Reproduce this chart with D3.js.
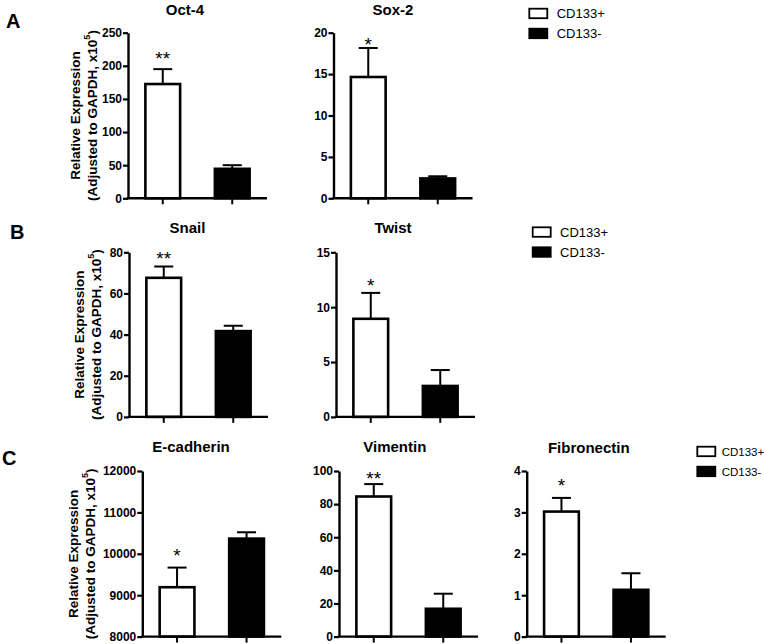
<!DOCTYPE html>
<html>
<head>
<meta charset="utf-8">
<script src="https://cdn.jsdelivr.net/npm/d3@7"></script>
<style>
  html, body { margin: 0; padding: 0; background: #fff; }
  svg { display: block; font-family: "Liberation Sans", Arial, sans-serif; }
</style>
</head>
<body>
<svg id="chart" width="764" height="644"></svg>
<script>
// ---------------- data ----------------
const genes    = ["Oct-4", "Sox-2", "Snail", "Twist", "E-cadherin", "Vimentin", "Fibronectin"];
const groups   = ["CD133+", "CD133-"];
const meanPos  = [172.5, 14.65, 67.6, 8.94, 9193, 84.6, 3.02];
const errPos   = [195, 18.15, 73.1, 11.3, 9667, 92.1, 3.35];
const meanNeg  = [44.5, 2.4, 41.7, 2.82, 10367, 16.8, 1.13];
const errNeg   = [50, 2.66, 44.3, 4.27, 10520, 25.9, 1.53];
const yMin     = [0, 0, 0, 0, 8000, 0, 0];
const yMax     = [250, 20, 80, 15, 12000, 100, 4];
const yStep    = [50, 5, 20, 5, 1000, 20, 1];
const stars    = ["**", "*", "**", "*", "*", "**", "*"];
const starVal  = [218.6, 19.2, 79.2, 12.4, 10075, 98.4, 3.77];
const panelLetters = ["A", "B", "C"];
const yTitle1  = "Relative Expression";
const yTitle2  = "(Adjusted to GAPDH, x10";
const yTitleSup = "5";

// ---------------- layout ----------------
const axisX  = [128, 333.5, 129, 336, 142.3, 339, 526.7];
const rowOf  = [0, 0, 1, 1, 2, 2, 2];
const rowTop = [32.7, 252.3, 471];
const rowBot = [198.3, 416.9, 636.6];
const titleX = [185, 393, 187.5, 393, 191, 394.8, 588.8];
const titleY = [15, 14.5, 232.7, 232.7, 452, 452, 452.5];
const plotW  = 139;
const letterPos = [[6, 28], [10, 239], [2, 465]];
const ylabPos = [[75, 91.5], [79, 96], [73, 89.5]];
const legendPos = [[529.3, 8.7, 556.7, 13], [532.7, 227.3, 560, 13], [697.3, 446.7, 721.7, 11.5]];

const svg = d3.select("#chart");
svg.append("rect").attr("width", 764).attr("height", 644).attr("fill", "#fff");

genes.forEach((g, i) => {
  const r = rowOf[i];
  const gEl = svg.append("g");
  const x = d3.scaleBand().domain(groups).range([axisX[i], axisX[i] + plotW])
    .paddingInner(0.5).paddingOuter(0.25);
  const y = d3.scaleLinear().domain([yMin[i], yMax[i]]).range([rowBot[r], rowTop[r]]);
  const means = [meanPos[i], meanNeg[i]];
  const errs = [errPos[i], errNeg[i]];

  // error bars (upper only)
  groups.forEach((grp, k) => {
    const cx = x(grp) + x.bandwidth() / 2;
    gEl.append("line").attr("x1", cx).attr("x2", cx)
      .attr("y1", y(means[k])).attr("y2", y(errs[k]))
      .attr("stroke", "#000").attr("stroke-width", 2);
    gEl.append("line").attr("x1", cx - 9.5).attr("x2", cx + 9.5)
      .attr("y1", y(errs[k])).attr("y2", y(errs[k]))
      .attr("stroke", "#000").attr("stroke-width", 2);
  });

  // bars
  groups.forEach((grp, k) => {
    gEl.append("rect")
      .attr("x", x(grp)).attr("width", x.bandwidth())
      .attr("y", y(means[k])).attr("height", y(yMin[i]) - y(means[k]))
      .attr("fill", k === 0 ? "#fff" : "#000")
      .attr("stroke", "#000").attr("stroke-width", 2.6);
  });

  // y axis
  const yAx = gEl.append("g").attr("transform", `translate(${axisX[i]},0)`)
    .call(d3.axisLeft(y).tickValues(d3.range(yMin[i], yMax[i] + yStep[i] / 2, yStep[i]))
      .tickSize(5).tickSizeOuter(0).tickPadding(1).tickFormat(d3.format("d")));
  yAx.select(".domain").attr("stroke-width", 2.4);
  yAx.selectAll(".tick line").attr("stroke-width", 2.2);
  yAx.selectAll(".tick text").attr("font-size", 12).attr("font-weight", "bold")
    .attr("font-family", "Liberation Sans, Arial, sans-serif").attr("fill", "#000");

  // x axis
  const xAx = gEl.append("g").attr("transform", `translate(0,${rowBot[r]})`)
    .call(d3.axisBottom(x).tickSize(6).tickSizeOuter(0).tickFormat(""));
  xAx.select(".domain").attr("stroke-width", 2.4).attr("d", `M${axisX[i] - 1.2},0H${axisX[i] + plotW}`);
  xAx.selectAll(".tick line").attr("stroke-width", 2);

  // title
  gEl.append("text").attr("x", titleX[i]).attr("y", titleY[i])
    .attr("text-anchor", "middle").attr("font-size", 15).attr("font-weight", "bold")
    .text(g);

  // significance stars
  gEl.append("text").attr("x", x(groups[0]) + x.bandwidth() / 2)
    .attr("y", y(starVal[i]) + 11.5)
    .attr("text-anchor", "middle").attr("font-size", 19)
    .text(stars[i]);
});

// y-axis titles, panel letters, legends
panelLetters.forEach((L, r) => {
  svg.append("text").attr("x", letterPos[r][0]).attr("y", letterPos[r][1])
    .attr("font-size", 20).attr("font-weight", "bold").text(L);

  const cy = (rowTop[r] + rowBot[r]) / 2;
  svg.append("text")
    .attr("transform", `translate(${ylabPos[r][0]},${cy}) rotate(-90)`)
    .attr("text-anchor", "middle").attr("dominant-baseline", "central")
    .attr("font-size", 13.5).attr("font-weight", "bold").text(yTitle1);
  const t2 = svg.append("text")
    .attr("transform", `translate(${ylabPos[r][1]},${cy}) rotate(-90)`)
    .attr("text-anchor", "middle").attr("dominant-baseline", "central")
    .attr("font-size", 13.5).attr("font-weight", "bold");
  t2.append("tspan").text(yTitle2);
  t2.append("tspan").attr("font-size", 9).attr("dy", -5).text(yTitleSup);
  t2.append("tspan").attr("dy", 5).text(")");

  const [lx, ly, tx, fs] = legendPos[r];
  groups.forEach((grp, k) => {
    const yy = ly + k * 20;
    svg.append("rect").attr("x", lx).attr("y", yy).attr("width", 18).attr("height", 9.5)
      .attr("fill", k === 0 ? "#fff" : "#000").attr("stroke", "#000").attr("stroke-width", 1.8);
    svg.append("text").attr("x", tx).attr("y", yy + 4.8)
      .attr("dominant-baseline", "central").attr("font-size", fs).text(grp);
  });
});
</script>
</body>
</html>
